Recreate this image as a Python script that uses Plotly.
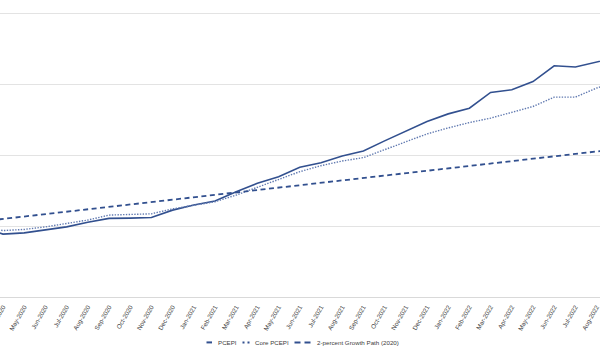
import plotly.graph_objects as go

months = ["Mar-2020", "Apr-2020", "May-2020", "Jun-2020", "Jul-2020", "Aug-2020", "Sep-2020",
          "Oct-2020", "Nov-2020", "Dec-2020", "Jan-2021", "Feb-2021", "Mar-2021", "Apr-2021",
          "May-2021", "Jun-2021", "Jul-2021", "Aug-2021", "Sep-2021", "Oct-2021", "Nov-2021",
          "Dec-2021", "Jan-2022", "Feb-2022", "Mar-2022", "Apr-2022", "May-2022", "Jun-2022",
          "Jul-2022", "Aug-2022", "Sep-2022"]

pcepi = [99.90, 99.43, 99.52, 99.75, 99.94, 100.27, 100.54, 100.56, 100.60, 101.12, 101.48,
         101.76, 102.42, 103.01, 103.47, 104.14, 104.46, 104.94, 105.29, 106.00, 106.70,
         107.36, 107.90, 108.30, 109.41, 109.60, 110.18, 111.29, 111.20, 111.53, 111.90]

core_pcepi = [99.90, 99.68, 99.76, 99.94, 100.18, 100.42, 100.77, 100.84, 100.86, 101.21, 101.45,
              101.71, 102.18, 102.73, 103.24, 103.83, 104.25, 104.58, 104.82, 105.36, 105.95,
              106.49, 106.91, 107.29, 107.60, 107.99, 108.42, 109.08, 109.08, 109.72, 110.20]

growth_path = [100.33, 100.50, 100.66, 100.83, 100.99, 101.16, 101.33, 101.49, 101.66, 101.83,
               102.00, 102.17, 102.33, 102.51, 102.67, 102.84, 103.01, 103.18, 103.35, 103.52,
               103.69, 103.86, 104.04, 104.21, 104.38, 104.55, 104.72, 104.90, 105.07, 105.25,
               105.42]

y_ticks = [95, 100, 105, 110, 115]
legend_names = ["PCEPI", "Core PCEPI", "2-percent Growth Path (2020)"]

COLOR = "#32508f"
FONT = "Liberation Sans, Arial, sans-serif"

fig = go.Figure()
fig.add_trace(go.Scatter(x=months, y=pcepi, mode="lines", name=legend_names[0],
                         line=dict(color=COLOR, width=1.6)))
fig.add_trace(go.Scatter(x=months, y=core_pcepi, mode="lines", name=legend_names[1],
                         line=dict(color="#6079b0", width=1.4, dash="1.4px,1.4px")))
fig.add_trace(go.Scatter(x=months, y=growth_path, mode="lines", name=legend_names[2],
                         line=dict(color=COLOR, width=1.8, dash="5px,3.5px")))

W, H = 600, 355
px_per_unit = 14.16
bottom = 296.7
y_top_val = 115.5
top = bottom - (y_top_val - 95) * px_per_unit
ml, mr = 0, 0
plot_h = bottom - top

def py(ypx):
    return (bottom - ypx) / plot_h

def px(xpx):
    return (xpx - ml) / (W - ml - mr)

# manual legend (short symbols like the reference)
ly = 342
shapes = [
    dict(type="line", xref="paper", yref="paper", x0=px(206.5), x1=px(212), y0=py(ly), y1=py(ly),
         line=dict(color=COLOR, width=2)),
    dict(type="line", xref="paper", yref="paper", x0=px(242.5), x1=px(249.5), y0=py(ly), y1=py(ly),
         line=dict(color=COLOR, width=2, dash="2px,3px")),
    dict(type="line", xref="paper", yref="paper", x0=px(294.5), x1=px(310.5), y0=py(ly), y1=py(ly),
         line=dict(color=COLOR, width=2, dash="6px,4px")),
]
annotations = []
for name, xt in zip(legend_names, [215.5, 252.5, 314.5]):
    annotations.append(dict(text=name, xref="paper", yref="paper", x=px(xt), y=py(ly),
                            xanchor="left", yanchor="middle", showarrow=False,
                            font=dict(family=FONT, size=6.2, color="#404040")))

fig.update_layout(
    width=W, height=H,
    margin=dict(l=ml, r=mr, t=top, b=H - bottom, pad=0),
    paper_bgcolor="white", plot_bgcolor="white",
    showlegend=False,
    shapes=shapes, annotations=annotations,
    xaxis=dict(type="category", categoryorder="array", categoryarray=months,
               range=[1 - 3 / 21.2, 1 - 3 / 21.2 + W / 21.2],
               tickangle=-60, tickfont=dict(family=FONT, size=6.3, color="#404040"),
               ticklabelstandoff=3,
               showgrid=False, showline=True, linecolor="#d9d9d9", linewidth=1,
               ticks="", automargin=False),
    yaxis=dict(range=[95, y_top_val], tickvals=y_ticks, showticklabels=False,
               showgrid=True, gridcolor="#e3e3e3", gridwidth=1, zeroline=False,
               showline=False, automargin=False),
)

fig.write_html("out.html")
